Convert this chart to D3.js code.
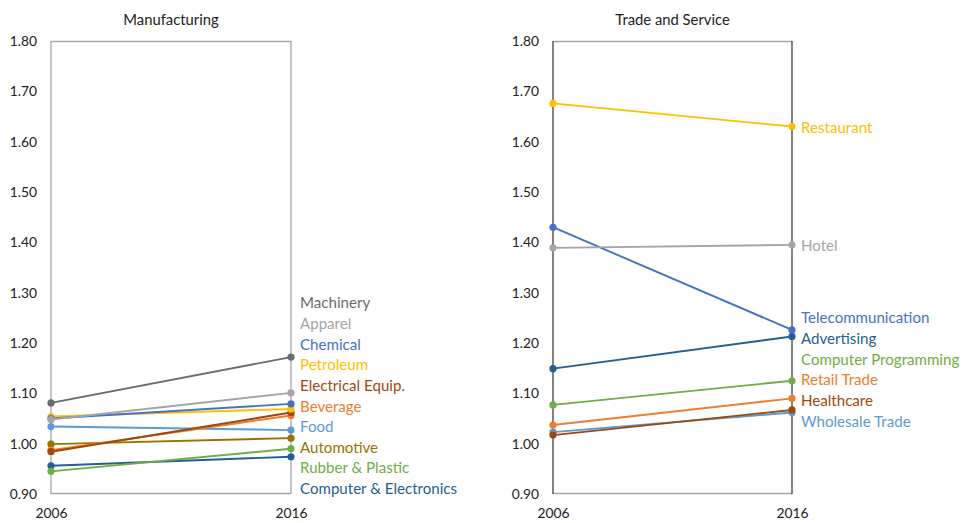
<!DOCTYPE html>
<html>
<head>
<meta charset="utf-8">
<script src="https://cdn.jsdelivr.net/npm/d3@7"></script>
<style>
  html, body { margin: 0; padding: 0; background: #fff; }
  svg { display: block; font-family: Lato, "Open Sans", sans-serif; }
</style>
</head>
<body>
<svg id="chart" width="965" height="523"></svg>
<script>
// Two slope panels: relative index in 2006 vs 2016
const years = ["2006", "2016"];
const yTicks = [0.9, 1.0, 1.1, 1.2, 1.3, 1.4, 1.5, 1.6, 1.7, 1.8];

const mfgNames = ["Machinery", "Apparel", "Chemical", "Petroleum", "Electrical Equip.",
  "Beverage", "Food", "Automotive", "Rubber & Plastic", "Computer & Electronics"];
const mfg2006 = [1.081, 1.048, 1.050, 1.054, 0.984, 0.987, 1.034, 0.999, 0.945, 0.956];
const mfg2016 = [1.172, 1.101, 1.079, 1.069, 1.062, 1.056, 1.027, 1.011, 0.990, 0.974];
const mfgColors = ["#6b6b6b", "#a5a5a5", "#4472c4", "#ffc000", "#9e480e",
  "#ed7d31", "#5b9bd5", "#997300", "#70ad47", "#255e91"];

const svcNames = ["Restaurant", "Hotel", "Telecommunication", "Advertising",
  "Computer Programming", "Retail Trade", "Healthcare", "Wholesale Trade"];
const svc2006 = [1.676, 1.389, 1.430, 1.149, 1.077, 1.037, 1.017, 1.023];
const svc2016 = [1.630, 1.395, 1.226, 1.213, 1.125, 1.090, 1.067, 1.062];
const svcColors = ["#ffc000", "#a5a5a5", "#4472c4", "#255e91",
  "#70ad47", "#ed7d31", "#9e480e", "#5b9bd5"];

const svg = d3.select("#chart");
const plotTop = 41, plotBottom = 494;

function panel(opts) {
  const g = svg.append("g");
  const x = d3.scalePoint().domain(years).range([opts.x0, opts.x1]);
  const y = d3.scaleLinear().domain([0.9, 1.8]).range([plotBottom, plotTop]);

  // title
  g.append("text")
    .attr("x", (opts.x0 + opts.x1) / 2).attr("y", 25)
    .attr("text-anchor", "middle").attr("font-size", 14.8).attr("fill", "#222")
    .text(opts.title);

  // frame
  g.append("line").attr("x1", opts.x0).attr("x2", opts.x1).attr("y1", plotTop + 0.5).attr("y2", plotTop + 0.5)
    .attr("stroke", "#a6a6a6").attr("stroke-width", 1.3);
  g.append("line").attr("x1", opts.x0).attr("x2", opts.x1).attr("y1", plotBottom - 0.5).attr("y2", plotBottom - 0.5)
    .attr("stroke", "#a6a6a6").attr("stroke-width", 1.3);
  years.forEach(yr => {
    g.append("line").attr("x1", x(yr)).attr("x2", x(yr)).attr("y1", plotTop).attr("y2", plotBottom)
      .attr("stroke", opts.vColor).attr("stroke-width", 1.3);
  });

  // y axis labels
  const yAxis = d3.axisLeft(y).tickValues(yTicks).tickFormat(d3.format(".2f")).tickSize(0).tickPadding(0);
  const ya = g.append("g").attr("transform", `translate(${opts.x0 - 14},0)`).call(yAxis);
  ya.select(".domain").remove();
  ya.selectAll("text").attr("font-size", 13.8).attr("fill", "#222").attr("font-family", "Lato, sans-serif");

  // x axis labels
  const xAxis = d3.axisBottom(x).tickSize(0).tickPadding(0);
  const xa = g.append("g").attr("transform", `translate(0,${plotBottom + 14})`).call(xAxis);
  xa.select(".domain").remove();
  xa.selectAll("text").attr("font-size", 13.8).attr("fill", "#222").attr("font-family", "Lato, sans-serif");

  const rows = opts.names.map((n, i) => ({ name: n, v: [opts.a[i], opts.b[i]], color: opts.colors[i], i }));
  const line = d3.line().x((d, j) => x(years[j])).y(d => y(d));

  // draw in reverse so the first-listed series sits on top
  rows.slice().reverse().forEach(r => {
    g.append("path").attr("d", line(r.v)).attr("fill", "none")
      .attr("stroke", r.color).attr("stroke-width", 1.9);
    r.v.forEach((v, j) => {
      g.append("circle").attr("cx", x(years[j])).attr("cy", y(v)).attr("r", 3.6).attr("fill", r.color);
    });
  });

  // end labels
  rows.forEach(r => {
    g.append("text")
      .attr("x", opts.x1 + 9).attr("y", opts.labelY(r, y) + 1).attr("dy", "0.35em")
      .attr("font-size", 15.1).attr("fill", r.color).text(r.name);
  });
}

panel({
  title: "Manufacturing", x0: 51, x1: 291, vColor: "#a6a6a6",
  names: mfgNames, a: mfg2006, b: mfg2016, colors: mfgColors,
  labelY: (r) => 302 + r.i * 20.65
});

panel({
  title: "Trade and Service", x0: 553, x1: 792, vColor: "#404040",
  names: svcNames, a: svc2006, b: svc2016, colors: svcColors,
  labelY: (r, y) => r.i < 2 ? y(r.v[1]) : 317 + (r.i - 2) * 20.65
});
</script>
</body>
</html>
